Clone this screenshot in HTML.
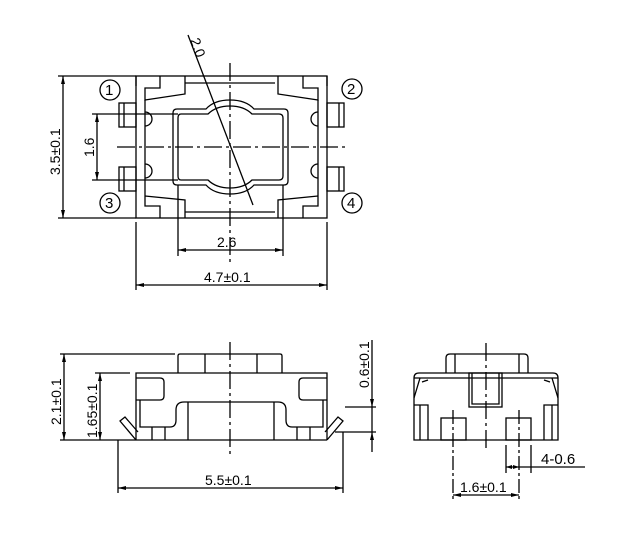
<!DOCTYPE html>
<html><head><style>html,body{margin:0;padding:0;background:#fff}svg{display:block}</style></head><body>
<svg width="621" height="551" viewBox="0 0 621 551" xmlns="http://www.w3.org/2000/svg" font-family="Liberation Sans, sans-serif" font-size="14" fill="none" stroke="#000" stroke-width="1.3">
<!-- TOP VIEW -->
<rect x="136" y="76" width="191" height="142"/>
<path d="M136 76 L136 86 M160 76 L160 88 L145 88 L145 100 L185 94 L185 76"/>
<path d="M327 76 L327 86 M303 76 L303 88 L318 88 L318 100 L278 94 L278 76"/>
<path d="M145 196 L185 200 L185 218 M160 218 L160 206 L145 206 L145 196"/>
<path d="M318 196 L278 200 L278 218 M303 218 L303 206 L318 206 L318 196"/>
<path d="M145 100 L145 196 M318 100 L318 196"/>
<rect x="119" y="103" width="17" height="24"/><line x1="124" y1="103" x2="124" y2="127"/>
<rect x="119" y="167" width="17" height="24"/><line x1="124" y1="167" x2="124" y2="191"/>
<rect x="327" y="103" width="17" height="24"/><line x1="339" y1="103" x2="339" y2="127"/>
<rect x="327" y="167" width="17" height="24"/><line x1="339" y1="167" x2="339" y2="191"/>
<path d="M145 112 a6 6 0 0 1 0 14 M145 164 a6 6 0 0 1 0 14 M318 112 a6 6 0 0 0 0 14 M318 164 a6 6 0 0 0 0 14"/>
<path d="M177 109 L206 109 Q214 100 230 100 Q246 100 254 109 L284 109 Q288 109 288 113 L288 181 Q288 185 284 185 L254 185 Q246 194 230 194 Q214 194 206 185 L177 185 Q173 185 173 181 L173 113 Q173 109 177 109 Z"/>
<path d="M181 114 L208 114 Q216 106 230 106 Q244 106 252 114 L279 114 Q283 114 283 118 L283 176 Q283 180 279 180 L252 180 Q244 188 230 188 Q216 188 208 180 L181 180 Q178 180 178 176 L178 118 Q178 114 181 114 Z"/>
<line x1="185" y1="83" x2="275" y2="83"/><line x1="185" y1="212" x2="275" y2="212"/>
<line x1="230" y1="63" x2="230" y2="263" stroke-dasharray="18,4,3,4"/>
<line x1="117" y1="147" x2="345" y2="147" stroke-dasharray="18,4,3,4"/>
<line x1="188" y1="35" x2="253" y2="205"/>
<text x="190" y="40" stroke="none" fill="#000" transform="rotate(70 190 40)">2.0</text>
<circle cx="110" cy="90" r="10"/><text x="105" y="95" stroke="none" fill="#000" font-size="15">1</text>
<circle cx="352" cy="89" r="10"/><text x="347" y="94" stroke="none" fill="#000" font-size="15">2</text>
<circle cx="110" cy="203" r="10"/><text x="105" y="208" stroke="none" fill="#000" font-size="15">3</text>
<circle cx="352" cy="203" r="10"/><text x="347" y="208" stroke="none" fill="#000" font-size="15">4</text>
<!-- dims top -->
<line x1="58" y1="76" x2="136" y2="76"/><line x1="58" y1="218" x2="136" y2="218"/>
<line x1="63" y1="76" x2="63" y2="218"/>
<text x="0" y="0" stroke="none" fill="#000" transform="translate(60 175) rotate(-90)">3.5±0.1</text>
<line x1="92" y1="114" x2="178" y2="114"/><line x1="92" y1="180" x2="178" y2="180"/>
<line x1="97" y1="114" x2="97" y2="180"/>
<text x="0" y="0" stroke="none" fill="#000" transform="translate(94 157) rotate(-90)">1.6</text>
<line x1="178" y1="185" x2="178" y2="256"/><line x1="283" y1="185" x2="283" y2="256"/>
<line x1="178" y1="250" x2="283" y2="250"/>
<text x="217" y="247" stroke="none" fill="#000">2.6</text>
<line x1="136" y1="222" x2="136" y2="290"/><line x1="327" y1="222" x2="327" y2="290"/>
<line x1="136" y1="285" x2="327" y2="285"/>
<text x="204" y="282" stroke="none" fill="#000">4.7±0.1</text>
<g fill="#000" stroke="none">
<path d="M63 76 l-2 8 h4z M63 218 l-2 -8 h4z M97 114 l-2 8 h4z M97 180 l-2 -8 h4z"/>
<path d="M178 250 l8 -2 v4z M283 250 l-8 -2 v4z M136 285 l8 -2 v4z M327 285 l-8 -2 v4z"/>
</g>
<!-- SIDE VIEW -->
<line x1="136" y1="440" x2="327" y2="440"/>
<path d="M136 440 L136 373 L327 373 L327 440"/>
<path d="M178 373 L178 356 Q178 354 180 354 L280 354 Q282 354 282 356 L282 373"/>
<line x1="205" y1="354" x2="205" y2="373"/><line x1="257" y1="354" x2="257" y2="373"/>
<path d="M136 378 L160 378 Q164 378 164 382 L164 396 Q164 400 160 400 L136 400"/>
<path d="M327 378 L303 378 Q299 378 299 382 L299 396 Q299 400 303 400 L327 400"/>
<path d="M140 400 L140 427 L170 427 Q176 427 176 420 L176 410 Q176 402 184 402 L278 402 Q286 402 286 410 L286 420 Q286 427 292 427 L323 427 L323 400"/>
<line x1="188" y1="402" x2="188" y2="440"/><line x1="274" y1="402" x2="274" y2="440"/>
<line x1="152" y1="427" x2="152" y2="440"/><line x1="165" y1="427" x2="165" y2="440"/>
<line x1="297" y1="427" x2="297" y2="440"/><line x1="310" y1="427" x2="310" y2="440"/>
<path d="M136 440 L120 421 L125 417 L138 432"/>
<path d="M327 440 L343 421 L338 417 L325 432"/>
<line x1="230" y1="342" x2="230" y2="455" stroke-dasharray="18,4,3,4"/>
<line x1="60" y1="354" x2="175" y2="354"/><line x1="60" y1="440" x2="136" y2="440"/>
<line x1="64" y1="354" x2="64" y2="440"/>
<text x="0" y="0" stroke="none" fill="#000" transform="translate(61 425) rotate(-90)">2.1±0.1</text>
<line x1="95" y1="373" x2="130" y2="373"/>
<line x1="100" y1="373" x2="100" y2="440"/>
<text x="0" y="0" stroke="none" fill="#000" transform="translate(97 438) rotate(-90)">1.65±0.1</text>
<line x1="345" y1="407" x2="376" y2="407"/><line x1="335" y1="432" x2="376" y2="432"/>
<line x1="372" y1="340" x2="372" y2="452"/>
<text x="0" y="0" stroke="none" fill="#000" transform="translate(369 388) rotate(-90)">0.6±0.1</text>
<line x1="118" y1="440" x2="118" y2="493"/><line x1="343" y1="432" x2="343" y2="493"/>
<line x1="118" y1="488" x2="343" y2="488"/>
<text x="205" y="485" stroke="none" fill="#000">5.5±0.1</text>
<g fill="#000" stroke="none">
<path d="M64 354 l-2 8 h4z M64 440 l-2 -8 h4z M100 373 l-2 8 h4z M100 440 l-2 -8 h4z"/>
<path d="M372 407 l-2 -8 h4z M372 432 l-2 8 h4z"/>
<path d="M118 488 l8 -2 v4z M343 488 l-8 -2 v4z"/>
</g>
<!-- FRONT VIEW -->
<path d="M414 440 L414 378 Q414 373 419 373 L553 373 Q558 373 558 378 L558 440 Z"/>
<path d="M446 373 L446 358 Q446 354 450 354 L524 354 Q528 354 528 358 L528 373"/>
<line x1="455" y1="354" x2="455" y2="373"/><line x1="519" y1="354" x2="519" y2="373"/>
<line x1="414" y1="378" x2="558" y2="378"/>
<path d="M420 378 L414 398 M552 378 L558 398 M422 382 L428 380 M550 382 L544 380"/>
<rect x="469" y="373" width="33" height="34"/>
<path d="M472 373 L472 404 L499 404 L499 373"/>
<path d="M414 405 L428 405 L428 440 M420 405 L420 440 M558 405 L544 405 L544 440 M552 405 L552 440"/>
<rect x="441" y="418" width="25" height="22"/><rect x="506" y="418" width="25" height="22"/>
<line x1="486" y1="343" x2="486" y2="452" stroke-dasharray="18,4,3,4"/>
<line x1="453" y1="410" x2="453" y2="500" stroke-dasharray="14,3,3,3"/>
<line x1="519" y1="410" x2="519" y2="500" stroke-dasharray="14,3,3,3"/>
<line x1="506" y1="445" x2="506" y2="473"/><line x1="531" y1="445" x2="531" y2="473"/>
<line x1="506" y1="467" x2="585" y2="467"/>
<text x="541" y="464" stroke="none" fill="#000" font-size="15">4-0.6</text>
<line x1="453" y1="495" x2="519" y2="495"/>
<text x="460" y="492" stroke="none" fill="#000">1.6±0.1</text>
<g fill="#000" stroke="none">
<path d="M506 467 l6 -2 v4z M519 467 l-6 -2 v4z M453 495 l8 -2 v4z M519 495 l-8 -2 v4z"/>
</g>
</svg>
</body></html>
